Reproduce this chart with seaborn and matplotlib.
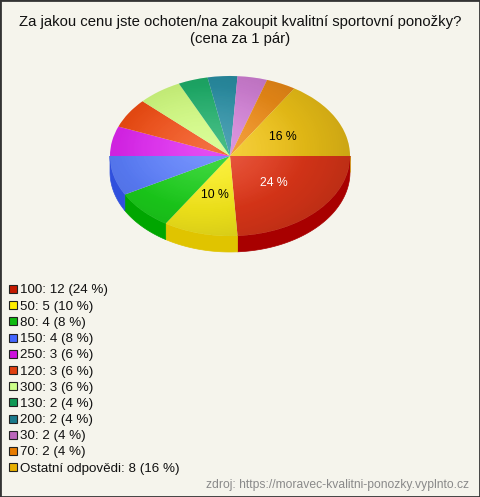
import numpy as np
import matplotlib.pyplot as plt
import matplotlib.patches as mpatches
import seaborn as sns

# data
labels = ['100', '50', '80', '150', '250', '120', '300', '130', '200', '30', '70', 'Ostatní odpovědi']
counts = [12, 5, 4, 4, 3, 3, 3, 2, 2, 2, 2, 8]
top_colors = ['#e8391a', '#fff21c', '#1cd31c', '#5c80ff', '#e026f2', '#f44e14', '#d4ff82',
              '#1fb26c', '#2b92a8', '#d884dc', '#f59018', '#f8ca18']
side_colors = ['#a80000', '#e0c400', '#00a600', '#3050dd', '#aa10bb', '#c03000', '#a8dd60',
               '#108850', '#1a6a7c', '#a050a8', '#c06a00', '#d09800']
legend_colors = ['#c41a00', '#ffee00', '#10bb10', '#4466ff', '#cc11dd', '#e04010', '#ccff88',
                 '#109955', '#1a7a8c', '#bb66bb', '#e87c00', '#e8b000']
title_lines = ['Za jakou cenu jste ochoten/na zakoupit kvalitní sportovní ponožky?', '(cena za 1 pár)']
source = 'zdroj: https://moravec-kvalitni-ponozky.vyplnto.cz'

bg = '#f5f4ec'
sns.set_style('white', {'axes.facecolor': bg, 'figure.facecolor': bg})
plt.rcParams['font.family'] = ['Liberation Sans', 'DejaVu Sans']

W, H = 480, 497
fig = plt.figure(figsize=(W / 100, H / 100), dpi=100)

# pie geometry in pixels
cx, cy, rx, ry, depth = 230, 156, 120, 80, 0.2
ax = fig.add_axes([(cx - 130) / W, (H - cy - 100) / H, 260 / W, 190 / H])

total = sum(counts)


def pct_fmt(p):
    return f'{p:.0f} %' if p >= 10 else ''


wedges, _, autotexts = ax.pie(counts, colors=top_colors, startangle=0, counterclock=False,
                              autopct=pct_fmt, pctdistance=0.5,
                              wedgeprops=dict(linewidth=0, antialiased=True),
                              textprops=dict(fontsize=8.8, color='black'))
for w in wedges:
    w.set_zorder(2)
for t in autotexts:
    t.set_zorder(5)
autotexts[0].set_color('white')

ax.set_aspect('auto')
ax.axis('off')

# side walls of the front half
for w, sc in zip(wedges, side_colors):
    t1, t2 = w.theta1, w.theta2
    t1n = t1 % 360
    t2n = t1n + (t2 - t1)
    for lo, hi in [(180, 360), (540, 720)]:
        a, b = max(t1n, lo), min(t2n, hi)
        if b <= a:
            continue
        th = np.radians(np.linspace(a, b, 80))
        xs = np.concatenate([np.cos(th), np.cos(th[::-1])])
        ys = np.concatenate([np.sin(th), np.sin(th[::-1]) - depth])
        ax.add_patch(mpatches.Polygon(np.column_stack([xs, ys]), closed=True,
                                      facecolor=sc, edgecolor=sc, linewidth=0.5, zorder=1))

# shading over the top surface
gx, gy = np.meshgrid(np.linspace(-1, 1, 300), np.linspace(-1, 1, 300))
r = np.clip(np.hypot(gx + 0.15, gy - 0.1), 0, 1.3)
dark = np.zeros((300, 300, 4))
dark[..., 3] = np.clip(0.11 * r ** 1.8 + 0.04 * (gx + 1) / 2, 0, 1)
light = np.ones((300, 300, 4))
light[..., 3] = np.clip(0.2 * (1 - r / 0.8), 0, 1)
clip = mpatches.Circle((0, 0), 1, transform=ax.transData)
for img in (dark, light):
    im = ax.imshow(img, extent=(-1, 1, -1, 1), origin='lower', zorder=3,
                   aspect='auto', interpolation='bilinear')
    im.set_clip_path(clip)
ax.set_xlim(-130 / rx, 130 / rx)
ax.set_ylim(-100 / ry, 90 / ry)

# title
fig.text(240 / W, 1 - 22 / H, title_lines[0], ha='center', va='center', fontsize=10.7, color='#111')
fig.text(240 / W, 1 - 39 / H, title_lines[1], ha='center', va='center', fontsize=10.7, color='#111')

# legend
for i, (lab, n, c) in enumerate(zip(labels, counts, legend_colors)):
    ypx = 289 + i * 16.2
    fig.add_artist(mpatches.Rectangle((9 / W, 1 - (ypx + 4) / H), 8 / W, 8 / H,
                                      transform=fig.transFigure, facecolor=c,
                                      edgecolor='#222', linewidth=0.8))
    fig.text(20 / W, 1 - (ypx + 4.5) / H, f'{lab}: {n} ({n / total * 100:.0f} %)',
             ha='left', va='baseline', fontsize=9.6, color='#111')

# source note
fig.text(469 / W, 1 - 485 / H, source, ha='right', va='center', fontsize=8.7, color='#8a8a8a')

# outer frame
fig.add_artist(mpatches.Rectangle((0, 0), 1, 1, transform=fig.transFigure, fill=False,
                                  edgecolor='#333', linewidth=2))

fig.savefig('out.png', dpi=100, facecolor=bg)
